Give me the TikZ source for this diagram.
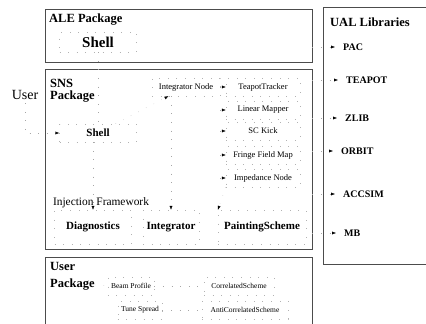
\documentclass[tikz,border=0pt]{standalone}
\usepackage{fontspec}
\setmainfont{Liberation Serif}
\usetikzlibrary{arrows.meta}
\tikzset{
    pkg/.style={draw=black!70, line width=0.9pt, inner sep=0pt},
    title/.style={anchor=west, inner sep=0pt, font=\bfseries\fontsize{12.5}{14}\selectfont},
    block/.style={draw=gray!60, line width=0.3pt, dash pattern=on 0.6pt off 8pt, font=\bfseries\fontsize{11}{13}\selectfont},
    elem/.style={block, font=\fontsize{8.5}{10}\selectfont, minimum width=74pt, minimum height=18pt},
    item/.style={block, font=\fontsize{7.5}{9}\selectfont, minimum height=18pt},
    lib/.style={anchor=west, inner xsep=8pt, font=\bfseries\fontsize{10}{12}\selectfont},
    wire/.style={gray!70, line width=0.3pt, dash pattern=on 0.6pt off 8pt},
    link/.style={wire, -{Latex[length=4pt, width=3pt, color=black]}},
    common settings/.style={x=1pt, y=-1pt}
}

\begin{document}
\begin{tikzpicture}[common settings]
    \useasboundingbox (0,0) rectangle (426,324);

    % Package frames
    \node[pkg, minimum width=267pt, minimum height=53pt] (ale) at (178.5,35.5) {};
    \node[pkg, minimum width=267pt, minimum height=180pt] (sns) at (178.5,159) {};
    \node[pkg, minimum width=267pt, minimum height=78pt] (usr) at (178.5,296) {};
    \node[pkg, minimum width=109pt, minimum height=257pt] (ual) at (377.5,135.5) {};

    % ALE Package
    \node[title] at (49,20) {ALE Package};
    \node[block, font=\bfseries\fontsize{15}{17}\selectfont, minimum width=77pt, minimum height=20pt] (aleshell) at (98,42) {Shell};

    % SNS Package
    \node[title] at (50,83) {SNS};
    \node[title] at (50,97) {Package};
    \node[font=\fontsize{14}{16}\selectfont] (user) at (25,95) {User};
    \node[block, minimum width=77pt, minimum height=18pt] (snsshell) at (98,133) {Shell};
    \node[elem, minimum width=68pt] (intnode) at (186,87) {Integrator Node};
    \node[elem] (teapot) at (263,87) {TeapotTracker};
    \node[elem] (mapper) at (263,110) {Linear Mapper};
    \node[elem] (sckick) at (263,131) {SC Kick};
    \node[elem] (fringe) at (263,155) {Fringe Field Map};
    \node[elem] (impedance) at (263,178) {Impedance Node};
    \node[font=\fontsize{11.4}{13}\selectfont] (inject) at (101,203) {Injection Framework};
    \node[block, minimum width=77pt, minimum height=34pt] (diag) at (93,227) {Diagnostics};
    \node[block, minimum width=56pt, minimum height=34pt] (integ) at (171,227) {Integrator};
    \node[block, minimum width=88pt, minimum height=34pt] (painting) at (262,227) {PaintingScheme};

    % User Package
    \node[title] at (50,266) {User};
    \node[title] (usrpkg) at (50,285) {Package};
    \node[item, minimum width=40pt] (beamprof) at (131,286) {Beam Profile};
    \node[item, minimum width=40pt] (tunespread) at (140,310) {Tune Spread};
    \node[item, minimum width=70pt] (correlated) at (239,286) {CorrelatedScheme};
    \node[item, minimum width=86pt] (anticorr) at (245,310) {AntiCorrelatedScheme};

    % UAL Libraries
    \node[title] at (330,22) {UAL Libraries};
    \node[lib] (pac) at (335,47) {PAC};
    \node[lib] (teapotlib) at (338,80) {TEAPOT};
    \node[lib] (zlib) at (337,118) {ZLIB};
    \node[lib] (orbit) at (333,151) {ORBIT};
    \node[lib] (accsim) at (335,194) {ACCSIM};
    \node[lib] (mb) at (336,233) {MB};

    % Connectors
    \draw[wire] (aleshell) -- (snsshell);
    \draw[link] (user) |- (snsshell);
    \draw[link] (snsshell) -- (intnode);
    \draw[link] (snsshell.south -| diag) -- (diag);
    \draw[link] (intnode.south -| integ) -- (integ);
    \foreach \e in {teapot, mapper, sckick, fringe, impedance}
        \draw[link] (intnode.east |- \e) -- (\e.west);
    \draw[link] (impedance.south west) -- (painting.north west);
    \draw[wire] (usrpkg.east) -- (beamprof);
    \draw[wire] (beamprof) -- (correlated);
    \draw[wire] (tunespread) -- (anticorr);
    \draw[link] (ale.east |- pac) -- (pac.west);
    \foreach \l in {teapotlib, zlib, orbit, accsim, mb}
        \draw[link] (sns.east |- \l) -- (\l.west);

\end{tikzpicture}
\end{document}
